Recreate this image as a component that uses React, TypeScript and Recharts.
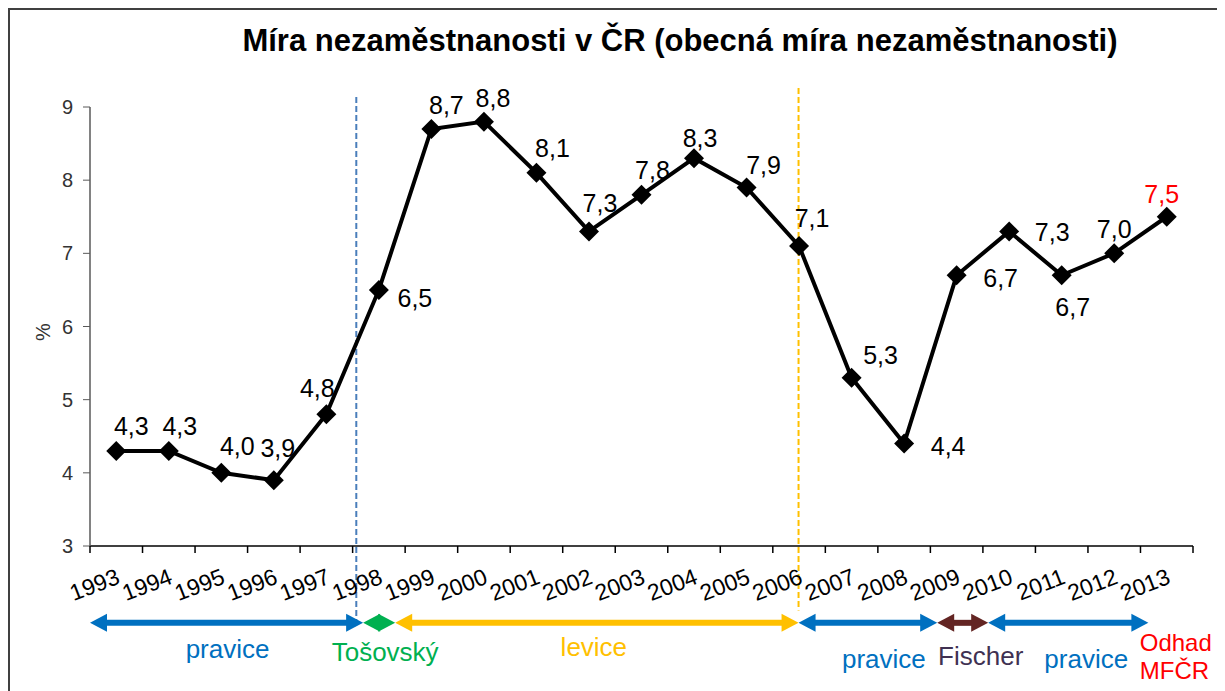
import React from "react";
import {
  LineChart,
  Line,
  XAxis,
  YAxis,
  ReferenceLine,
  ReferenceDot,
  LabelList,
} from "recharts";

// rok -> obecná míra nezaměstnanosti (%)
const years = [
  "1993", "1994", "1995", "1996", "1997", "1998", "1999", "2000", "2001", "2002", "2003",
  "2004", "2005", "2006", "2007", "2008", "2009", "2010", "2011", "2012", "2013",
];
const unemployment = [
  4.3, 4.3, 4.0, 3.9, 4.8, 6.5, 8.7, 8.8, 8.1, 7.3, 7.8, 8.3, 7.9, 7.1, 5.3, 4.4, 6.7, 7.3,
  6.7, 7.0, 7.5,
];
const yTicks = [3, 4, 5, 6, 7, 8, 9];

// vlády (šipky pod osou), v jednotkách kategorií (0 = začátek 1993)
const periodNames = ["pravice", "Tošovský", "levice", "pravice", "Fischer", "pravice"];
const periodStart = [0, 5.2, 5.81, 13.49, 16.13, 17.1];
const periodEnd = [5.2, 5.81, 13.49, 16.13, 17.1, 20.15];

// styles
const arrowColors = ["#0070c0", "#00b050", "#ffc000", "#0070c0", "#632523", "#0070c0"];
const textColors = ["#0070c0", "#00b050", "#ffc000", "#0070c0", "#403152", "#0070c0"];
const textOffsets = [
  [1, 35],
  [6, 38],
  [-3, 33],
  [16, 45],
  [18, 42],
  [18, 45],
];
const ARROW_Y = 1.95;
// posun popisku hodnoty od bodu [dx, dy]
const labelOffsets = [
  [15, -16], [11, -16], [16, -18], [4, -23], [-9, -17], [36, 17], [15, -15],
  [9, -15], [16, -16], [11, -19], [11, -16], [6, -11], [17, -13], [13, -19],
  [29, -14], [44, 11], [44, 12], [43, 10], [11, 41], [0, -15], [-5, -14],
];

const FONT = "'Liberation Sans', Arial, sans-serif";

const data = years.map((year, i) => ({ year, pos: i + 0.5, value: unemployment[i] }));
const xTicks: number[] = [];
for (let i = 0; i <= years.length; i++) {
  xTicks.push(i);
  if (i < years.length) xTicks.push(i + 0.5);
}

const XTick = (props: any) => {
  const { x, y, payload } = props;
  const v = payload.value;
  if (Number.isInteger(v)) {
    return <line x1={x} x2={x} y1={y - 7} y2={y} stroke="#000" strokeWidth={1.5} />;
  }
  const ax = x + 5;
  const ay = y + 30;
  return (
    <text
      x={ax}
      y={ay}
      textAnchor="end"
      transform={`rotate(-21 ${ax} ${ay})`}
      fontSize={23}
      fontFamily={FONT}
      fill="#000"
    >
      {years[Math.floor(v)]}
    </text>
  );
};

const Diamond = (props: any) => {
  const { cx, cy, index } = props;
  if (cx == null || cy == null) return <g key={`d-${index}`} />;
  const r = 10;
  return (
    <path
      key={`d-${index}`}
      d={`M${cx},${cy - r} L${cx + r},${cy} L${cx},${cy + r} L${cx - r},${cy} Z`}
      fill="#000"
    />
  );
};

const ValueLabel = (props: any) => {
  const { x, y, value, index } = props;
  const [dx, dy] = labelOffsets[index] || [0, -14];
  return (
    <text
      x={x + dx}
      y={y + dy}
      textAnchor="middle"
      fontSize={25}
      fontFamily={FONT}
      fill={index === years.length - 1 ? "#ff0000" : "#000"}
    >
      {Number(value).toFixed(1).replace(".", ",")}
    </text>
  );
};

const makeArrow = (i: number) => (p: any) => {
  const { x1, y1, x2, y2 } = p;
  const head = 17;
  const half = 9;
  const color = arrowColors[i];
  const [tdx, tdy] = textOffsets[i];
  const mid = (x1 + x2) / 2;
  return (
    <g>
      <line
        x1={x1 + head - 2}
        x2={x2 - head + 2}
        y1={y1}
        y2={y2}
        stroke={color}
        strokeWidth={6}
      />
      <polygon
        points={`${x1},${y1} ${x1 + head},${y1 - half} ${x1 + head},${y1 + half}`}
        fill={color}
      />
      <polygon
        points={`${x2},${y2} ${x2 - head},${y2 - half} ${x2 - head},${y2 + half}`}
        fill={color}
      />
      <text
        x={mid + tdx}
        y={y1 + tdy}
        textAnchor="middle"
        fontSize={26}
        fontFamily={FONT}
        fill={textColors[i]}
      >
        {periodNames[i]}
      </text>
    </g>
  );
};

const OdhadNote = (p: any) => {
  const { cx, cy } = p;
  return (
    <g>
      <text x={cx - 27} y={cy + 28} fontSize={24} fontFamily={FONT} fill="#ff0000">
        Odhad
      </text>
      <text x={cx - 27} y={cy + 56} fontSize={24} fontFamily={FONT} fill="#ff0000">
        MFČR
      </text>
    </g>
  );
};

export default function App(): React.ReactElement {
  return (
    <div
      style={{
        position: "relative",
        width: 1207,
        height: 681,
        borderLeft: "2px solid #404040",
        borderTop: "2px solid #404040",
        borderRight: "2px solid #404040",
        overflow: "hidden",
        background: "#fff",
      }}
    >
      <div
        style={{
          position: "absolute",
          left: 670,
          top: 15,
          transform: "translateX(-50%)",
          whiteSpace: "nowrap",
          fontFamily: FONT,
          fontWeight: "bold",
          fontSize: 31,
          lineHeight: "31px",
          color: "#000",
        }}
      >
        Míra nezaměstnanosti v ČR (obecná míra nezaměstnanosti)
      </div>
      <LineChart
        width={1207}
        height={681}
        data={data}
        margin={{ top: 97, right: 24, bottom: 105, left: 20 }}
      >
        <XAxis
          dataKey="pos"
          type="number"
          domain={[0, years.length]}
          ticks={xTicks}
          interval={0}
          tick={<XTick />}
          tickLine={false}
          tickSize={7}
          tickMargin={0}
          height={40}
          axisLine={{ stroke: "#000", strokeWidth: 1.5 }}
        />
        <YAxis
          type="number"
          domain={[3, 9]}
          ticks={yTicks}
          interval={0}
          width={60}
          tickSize={7}
          tickMargin={10}
          tick={{ fill: "#333", fontSize: 20, fontFamily: FONT }}
          tickLine={{ stroke: "#595959" }}
          axisLine={{ stroke: "#595959", strokeWidth: 1.5 }}
          label={{
            content: () => (
              <text
                x={40}
                y={322}
                transform="rotate(-90 40 322)"
                textAnchor="middle"
                fontSize={20}
                fontFamily={FONT}
                fill="#333"
              >
                %
              </text>
            ),
          }}
        />
        <ReferenceLine
          segment={[
            { x: 5.07, y: 9.137 },
            { x: 5.07, y: 1.98 },
          ]}
          stroke="#4a7ebb"
          strokeWidth={2}
          strokeDasharray="6 3"
          ifOverflow="visible"
        />
        <ReferenceLine
          segment={[
            { x: 13.49, y: 9.26 },
            { x: 13.49, y: 2.12 },
          ]}
          stroke="#ffc000"
          strokeWidth={2}
          strokeDasharray="6 3"
          ifOverflow="visible"
        />
        {periodNames.map((name, i) => (
          <ReferenceLine
            key={`period-${i}`}
            segment={[
              { x: periodStart[i], y: ARROW_Y },
              { x: periodEnd[i], y: ARROW_Y },
            ]}
            ifOverflow="visible"
            shape={makeArrow(i)}
          />
        ))}
        <ReferenceDot
          x={years.length - 0.5}
          y={ARROW_Y}
          r={0}
          ifOverflow="visible"
          shape={OdhadNote}
        />
        <Line
          type="linear"
          dataKey="value"
          stroke="#000"
          strokeWidth={4}
          dot={Diamond}
          activeDot={false}
          isAnimationActive={false}
        >
          <LabelList dataKey="value" content={ValueLabel} />
        </Line>
      </LineChart>
    </div>
  );
}
